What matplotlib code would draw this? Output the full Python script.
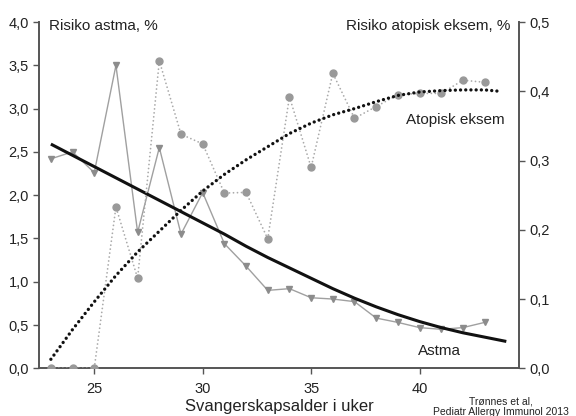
import matplotlib.pyplot as plt
from matplotlib.ticker import FuncFormatter

plt.rcParams['font.family'] = ['Liberation Sans', 'DejaVu Sans']

weeks = list(range(23, 44))

# observed risk per week
astma_obs = [2.42, 2.50, 2.26, 3.50, 1.57, 2.55, 1.55, 2.03, 1.44, 1.18, 0.90,
             0.92, 0.815, 0.80, 0.77, 0.58, 0.53, 0.47, 0.45, 0.47, 0.53]
eksem_obs = [0.0, 0.0, 0.0, 0.233, 0.130, 0.444, 0.338, 0.324, 0.253, 0.254, 0.187,
             0.392, 0.290, 0.426, 0.361, 0.378, 0.395, 0.397, 0.397, 0.416, 0.413]

# fitted curves
astma_fit_weeks = list(range(23, 45))
astma_fit = [2.59, 2.46, 2.33, 2.20, 2.07, 1.94, 1.81, 1.68, 1.55, 1.41, 1.28,
             1.16, 1.04, 0.92, 0.81, 0.71, 0.62, 0.54, 0.47, 0.41, 0.36, 0.31]
eksem_fit_weeks = list(range(23, 44)) + [43.7]
eksem_fit = [0.013, 0.056, 0.096, 0.134, 0.168, 0.198, 0.228, 0.256, 0.280, 0.301, 0.320,
             0.339, 0.354, 0.366, 0.375, 0.385, 0.394, 0.399, 0.401, 0.402, 0.402, 0.400]

left_ticks = [0, 0.5, 1.0, 1.5, 2.0, 2.5, 3.0, 3.5, 4.0]
right_ticks = [0, 0.1, 0.2, 0.3, 0.4, 0.5]
x_ticks = [25, 30, 35, 40]

comma = FuncFormatter(lambda v, p: f'{v:.1f}'.replace('.', ','))
spine_col = '#555555'

fig = plt.figure(figsize=(5.76, 4.16), dpi=100)
ax = fig.add_axes([0.068, 0.1147, 0.8336, 0.8323])
ax2 = ax.twinx()

ax.plot(weeks, astma_obs, color='#a0a0a0', lw=1.0, marker='v', ms=4.5,
        mfc='#8c8c8c', mec='#8c8c8c', zorder=2)
ax.plot(astma_fit_weeks, astma_fit, color='#111111', lw=2.2, zorder=4,
        solid_capstyle='butt')

ax2.plot(weeks, eksem_obs, color='#aaaaaa', lw=1.3, ls=(0, (0.01, 2.2)),
         dash_capstyle='round', marker='o', ms=5, mfc='#999999', mec='#999999',
         zorder=2)
ax2.plot(eksem_fit_weeks, eksem_fit, color='#111111', lw=2.4, ls=(0, (0.01, 1.55)),
         dash_capstyle='round', zorder=4)

ax.set_xlim(22.46, 44.6)
ax.set_ylim(0, 4.0)
ax2.set_ylim(0, 0.5)
ax.set_xticks(x_ticks)
ax.set_yticks(left_ticks)
ax2.set_yticks(right_ticks)
ax.yaxis.set_major_formatter(comma)
ax2.yaxis.set_major_formatter(comma)

for a in (ax, ax2):
    a.spines['top'].set_visible(False)
    for s in a.spines.values():
        s.set_color(spine_col)
        s.set_linewidth(1.4)
    a.tick_params(colors=spine_col, labelcolor='#222222', labelsize=10.5,
                  length=4, width=1.0, direction='out')
ax.spines['right'].set_visible(False)
ax2.spines['left'].set_visible(False)
ax2.spines['bottom'].set_visible(False)
ax.tick_params(axis='x', pad=6)

ax.set_xlabel('Svangerskapsalder i uker', fontsize=12, color='#222222', labelpad=2)

ax.text(0.02, 0.99, 'Risiko astma, %', transform=ax.transAxes, fontsize=11,
        color='#222222', va='center', ha='left')
ax.text(0.982, 0.99, 'Risiko atopisk eksem, %', transform=ax.transAxes, fontsize=11,
        color='#222222', va='center', ha='right')
ax2.text(43.9, 0.359, 'Atopisk eksem', fontsize=11, color='#222222',
         ha='right', va='center')
ax.text(41.9, 0.2, 'Astma', fontsize=11, color='#222222', ha='right', va='center')

fig.text(0.87, 0.046, 'Trønnes et al,\nPediatr Allergy Immunol 2013', fontsize=7.5,
         color='#222222', ha='center', va='top', linespacing=1.05)

fig.savefig('out.png', dpi=100)
